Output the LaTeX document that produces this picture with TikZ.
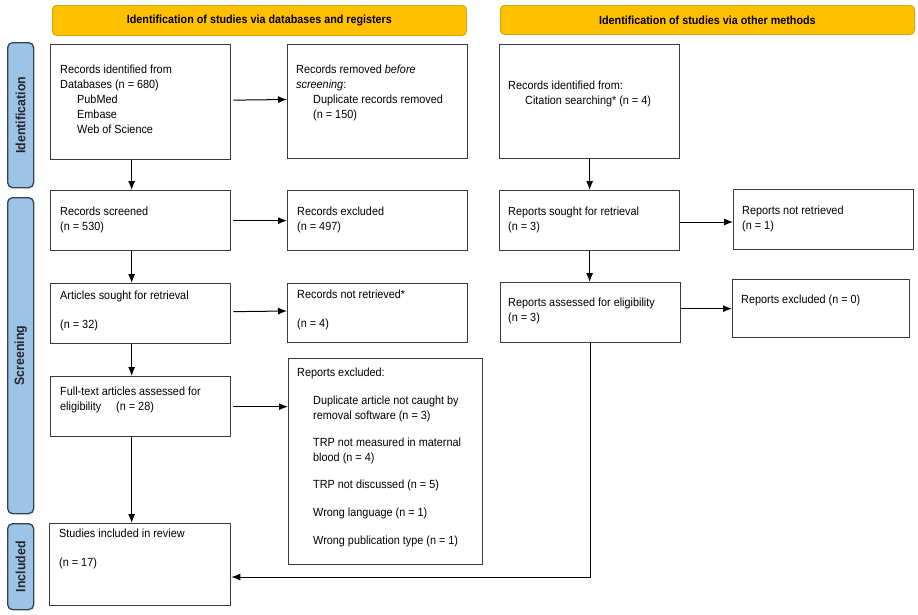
\documentclass[tikz,border=0pt]{standalone}
\usepackage{fontspec}
\setmainfont{Liberation Sans}[FakeStretch=0.92]
\usetikzlibrary{positioning,arrows.meta}

\definecolor{bannergold}{HTML}{FFC000}
\definecolor{bannerline}{HTML}{D9A400}
\definecolor{stageblue}{HTML}{9DC3E6}
\definecolor{stageline}{HTML}{2F4356}
\definecolor{boxline}{HTML}{3A3A3A}

\begin{document}
\begin{tikzpicture}
    [
    x=1pt, y=-1pt, >={Latex[length=9pt,width=7pt]}, font=\fontsize{11.8}{15}\selectfont,
    %Voreinstellungen
    box/.style={draw=boxline, line width=1.3pt, anchor=north west, inner sep=0pt},
    txt/.style={anchor=north west, align=left, inner sep=0pt},
    banner/.style={draw=bannerline, fill=bannergold, line width=0.8pt, rounded corners=4pt,
        anchor=north west, inner sep=0pt, font=\bfseries\fontsize{11.7}{13}\selectfont},
    stage/.style={draw=stageline, fill=stageblue, line width=1.3pt, rounded corners=5pt,
        anchor=north west, inner sep=0pt, minimum width=26},
    stagetxt/.style={rotate=90, inner sep=0pt, text=black!85, font=\bfseries\fontsize{13.4}{16}\selectfont},
    flow/.style={->, line width=1pt, black}
    ]
    
    %Rahmen
    \useasboundingbox (0,0) rectangle (918,614);
    
    %Kopfzeilen
    \node[banner, minimum width=414, minimum height=30] (dbhead) at (52,5)
        {Identification of studies via databases and registers};
    \node[banner, minimum width=414, minimum height=29] (otherhead) at (500,5)
        {Identification of studies via other methods};
    
    %Phasen links
    \node[stage, minimum height=145] (ident) at (7,42) {};
    \node[stagetxt] (ident-t) at (ident.center) {Identification};
    \node[stage, minimum height=316] (screen) at (7,197) {};
    \node[stagetxt] (screen-t) at (screen.center) {Screening};
    \node[stage, minimum height=86] (incl) at (7,523) {};
    \node[stagetxt] (incl-t) at (incl.center) {Included};
    
    %Datenbanken
    \node[box, minimum width=180, minimum height=115] (recid) at (50,44) {};
    \node[txt] (recid-t) at ([shift={(10,21)}]recid.north west)
        {Records identified from\\Databases (n = 680)\\\hspace*{17pt}PubMed\\
         \hspace*{17pt}Embase\\\hspace*{17pt}Web of Science};
    \node[box, minimum width=180, minimum height=114] (removed) at (287,44) {};
    \node[txt] (removed-t) at ([shift={(9,21)}]removed.north west)
        {Records removed \textit{before}\\\textit{screening}:\\
         \hspace*{17pt}Duplicate records removed\\\hspace*{17pt}(n = 150)};
    
    \node[box, minimum width=180, minimum height=60] (screened) at (50,190) {};
    \node[txt] (screened-t) at ([shift={(10,17)}]screened.north west)
        {Records screened\\(n = 530)};
    \node[box, minimum width=180, minimum height=60] (excluded) at (287,190) {};
    \node[txt] (excluded-t) at ([shift={(10,17)}]excluded.north west)
        {Records excluded\\(n = 497)};
    
    \node[box, minimum width=180, minimum height=60] (articles) at (50,283) {};
    \node[txt] (articles-t) at ([shift={(10,8)}]articles.north west)
        {Articles sought for retrieval\\[14pt](n = 32)};
    \node[box, minimum width=180, minimum height=59] (notretr) at (287,283) {};
    \node[txt] (notretr-t) at ([shift={(10,7)}]notretr.north west)
        {Records not retrieved*\\[14pt](n = 4)};
    
    \node[box, minimum width=180, minimum height=60] (fulltext) at (50,376) {};
    \node[txt] (fulltext-t) at ([shift={(10,11)}]fulltext.north west)
        {Full-text articles assessed for\\eligibility\hspace*{15pt}(n = 28)};
    \node[box, minimum width=194, minimum height=206] (repexcl) at (288,358) {};
    \node[txt] (repexcl-t) at ([shift={(9,10)}]repexcl.north west)
        {Reports excluded:\\[13pt]
         \hspace*{16pt}Duplicate article not caught by\\
         \hspace*{16pt}removal software (n = 3)\\[12pt]
         \hspace*{16pt}TRP not measured in maternal\\
         \hspace*{16pt}blood (n = 4)\\[12pt]
         \hspace*{16pt}TRP not discussed (n = 5)\\[13pt]
         \hspace*{16pt}Wrong language (n = 1)\\[13pt]
         \hspace*{16pt}Wrong publication type (n = 1)};
    
    \node[box, minimum width=181, minimum height=82] (included) at (49,523) {};
    \node[txt] (included-t) at ([shift={(10,6)}]included.north west)
        {Studies included in review\\[14pt](n = 17)};
    
    %andere Methoden
    \node[box, minimum width=180, minimum height=114] (otherid) at (499,44) {};
    \node[txt] (otherid-t) at ([shift={(9,37)}]otherid.north west)
        {Records identified from:\\\hspace*{17pt}Citation searching* (n = 4)};
    
    \node[box, minimum width=180, minimum height=60] (sought) at (499,190) {};
    \node[txt] (sought-t) at ([shift={(9,17)}]sought.north west)
        {Reports sought for retrieval\\(n = 3)};
    \node[box, minimum width=180, minimum height=60] (lost) at (733,189) {};
    \node[txt] (lost-t) at ([shift={(9,17)}]lost.north west)
        {Reports not retrieved\\(n = 1)};
    
    \node[box, minimum width=180, minimum height=60] (assessed) at (500,282) {};
    \node[txt] (assessed-t) at ([shift={(8,16)}]assessed.north west)
        {Reports assessed for eligibility\\(n = 3)};
    \node[box, minimum width=177, minimum height=58] (nulexcl) at (732,279) {};
    \node[txt] (nulexcl-t) at ([shift={(9,16)}]nulexcl.north west)
        {Reports excluded (n = 0)};
    
    %Pfeile links
    \draw[flow] ([xshift=-9]recid.south) -- ([xshift=-9]screened.north);
    \draw[flow] ([xshift=-9]screened.south) -- ([xshift=-9]articles.north);
    \draw[flow] ([xshift=-9]articles.south) -- ([xshift=-9]fulltext.north);
    \draw[flow] ([xshift=-9]fulltext.south) -- ([xshift=-9]fulltext.south |- included.north);
    
    \draw[flow] ([shift={(2,-2)}]recid.east) -- (removed.west |- 0,99.5);
    \draw[flow] ([xshift=2]screened.east) -- (excluded.west);
    \draw[flow] ([shift={(2,-2)}]articles.east) -- (notretr.west |- 0,311);
    \draw[flow] ([xshift=2]fulltext.east) -- (repexcl.west |- fulltext.east);
    
    %Pfeile rechts
    \draw[flow] (otherid.south) -- (sought.north);
    \draw[flow] (sought.south) -- (sought.south |- assessed.north);
    \draw[flow] (sought.east |- 0,222) -- (lost.west |- 0,222);
    \draw[flow] (assessed.east |- nulexcl.west) -- (nulexcl.west);
    
    \coordinate (joinpt) at (assessed.south |- 0,577);
    \draw[flow] (assessed.south) -- (joinpt) -- (joinpt -| included.east);
\end{tikzpicture}
\end{document}
